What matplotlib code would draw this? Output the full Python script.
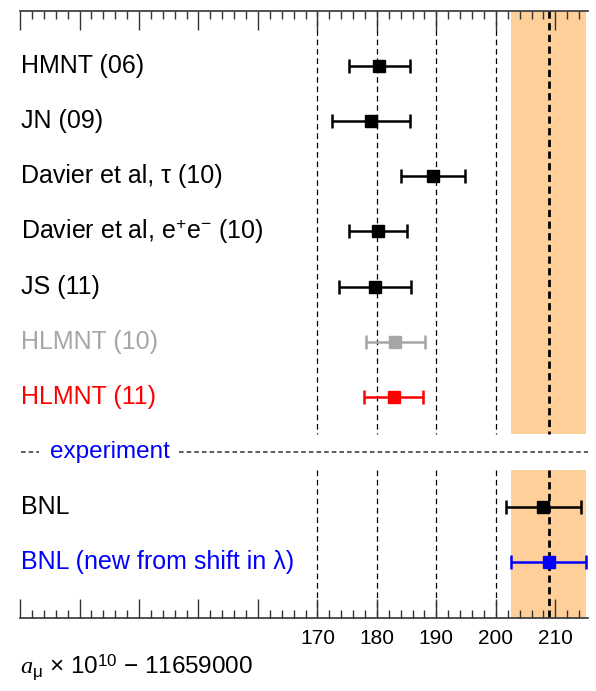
import matplotlib
matplotlib.use("Agg")
import matplotlib.pyplot as plt
from matplotlib.ticker import MultipleLocator, FuncFormatter

plt.rcParams['font.family'] = ['Liberation Sans', 'DejaVu Sans']
plt.rcParams['mathtext.fontset'] = 'custom'
plt.rcParams['mathtext.rm'] = 'Liberation Sans'
plt.rcParams['mathtext.it'] = 'Liberation Serif:italic'
plt.rcParams['mathtext.bf'] = 'Liberation Sans:bold'

# theory evaluations of a_mu (x 10^10 - 11659000)
theory_labels = ['HMNT (06)', 'JN (09)', 'Davier et al, τ (10)',
                 'Davier et al, e$^{+}$e$^{-}$ (10)', 'JS (11)',
                 'HLMNT (10)', 'HLMNT (11)']
theory_values = [180.4, 179.0, 189.4, 180.2, 179.7, 183.1, 182.8]
theory_errors = [5.1, 6.5, 5.4, 4.9, 6.0, 5.0, 4.9]
theory_colors = ['black', 'black', 'black', 'black', 'black', '#A6A6A6', '#FF0000']

# experimental values
exp_labels = ['BNL', 'BNL (new from shift in λ)']
exp_values = [208.0, 208.9]
exp_errors = [6.3, 6.3]
exp_colors = ['black', '#0000FF']

ref_lines = [170, 180, 190, 200]
band_center = exp_values[1]
band_error = exp_errors[1]

fig = plt.figure(figsize=(5.96, 6.91), dpi=100)
ax = fig.add_axes([0.0336, 0.1061, 0.953, 0.8786])
ax.set_xlim(120, 215.5)
ax.set_ylim(10, -1)

theory_rows = list(range(len(theory_labels)))
exp_row = len(theory_labels)
exp_rows = [exp_row + 1 + i for i in range(len(exp_labels))]

# shaded band and dashed guide lines, split around the "experiment" row
sections = [(-1, exp_row - 0.32), (exp_row + 0.32, 10)]
for y0, y1 in sections:
    ax.fill_between([band_center - band_error, band_center + band_error], y0, y1,
                    color='#FFCF99', lw=0, zorder=0)
    for xv in ref_lines:
        ax.plot([xv, xv], [y0, y1], color='black', lw=0.9, ls=(0, (4.5, 3)), zorder=1)
    ax.plot([band_center, band_center], [y0, y1], color='black', lw=2.0,
            ls=(0, (2.6, 1.6)), zorder=1)

def draw_point(row, val, err, col):
    ax.errorbar(val, row, xerr=err, fmt='s', color=col, ecolor=col,
                markersize=8, elinewidth=1.8, capsize=5, capthick=1.8, zorder=3)

for r, lab, v, e, c in zip(theory_rows, theory_labels, theory_values, theory_errors, theory_colors):
    draw_point(r, v, e, c)
    ax.text(120.2, r, lab, color=c, fontsize=18, va='center', ha='left')

for r, lab, v, e, c in zip(exp_rows, exp_labels, exp_values, exp_errors, exp_colors):
    draw_point(r, v, e, c)
    ax.text(120.2, r, lab, color=c, fontsize=18, va='center', ha='left')

# separator row
ax.plot([120.1, 123.2], [exp_row, exp_row], color='#333333', lw=1.1, ls=(0, (3, 2)))
ax.plot([146.8, 215.5], [exp_row, exp_row], color='#333333', lw=1.1, ls=(0, (3, 2)))
ax.text(125.0, exp_row, 'experiment', color='#0000FF', fontsize=17.5, va='center', ha='left')

# axes styling
for s in ['left', 'right']:
    ax.spines[s].set_visible(False)
for s in ['top', 'bottom']:
    ax.spines[s].set_linewidth(1.2)
    ax.spines[s].set_color('#333333')
ax.set_yticks([])
ax.xaxis.set_major_locator(MultipleLocator(10))
ax.xaxis.set_minor_locator(MultipleLocator(2))
ax.xaxis.set_major_formatter(FuncFormatter(lambda v, p: f'{v:.0f}' if v >= 170 else ''))
ax.tick_params(axis='x', which='both', direction='in', top=True, bottom=True,
               color='#333333', width=1.0)
ax.tick_params(axis='x', which='major', length=14, labelsize=15, pad=8)
ax.tick_params(axis='x', which='minor', length=5.5)

fig.text(20 / 596, 1 - 674 / 691, r'$a_{\mathrm{μ}}$ × 10$^{10}$ − 11659000',
         fontsize=17.5, ha='left', va='baseline')

fig.savefig('out.png', dpi=100)
